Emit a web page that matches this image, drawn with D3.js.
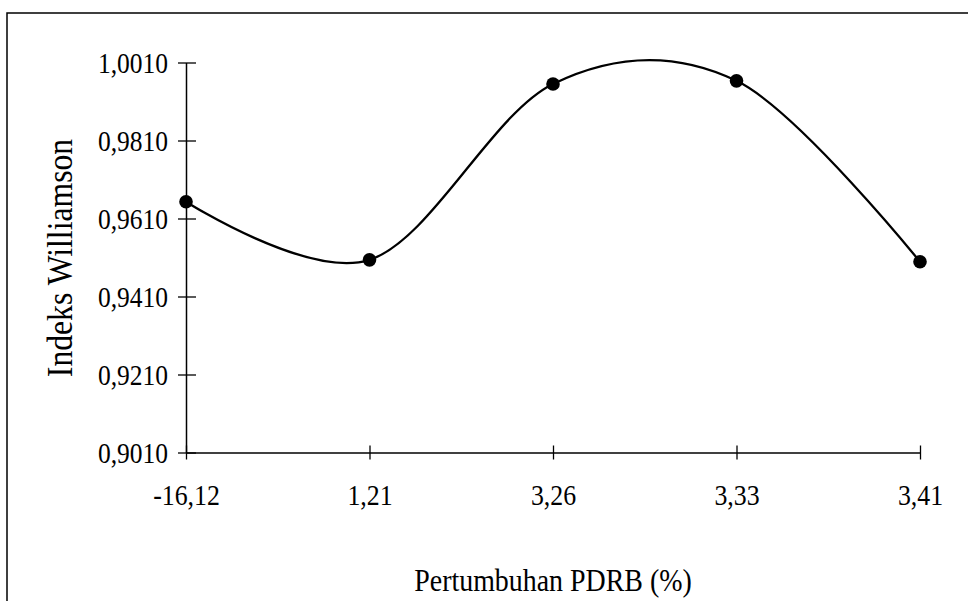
<!DOCTYPE html>
<html>
<head>
<meta charset="utf-8">
<script src="https://cdn.jsdelivr.net/npm/d3@7"></script>
<style>
  html, body { margin: 0; padding: 0; background: #fff; }
  svg { display: block; }
  text { font-family: "Liberation Serif", "Times New Roman", serif; fill: #000; }
</style>
</head>
<body>
<svg id="chart" width="970" height="601"></svg>
<script>
const categories = ["-16,12", "1,21", "3,26", "3,33", "3,41"];
const williamson = [0.9653, 0.9504, 0.9955, 0.9963, 0.9499];
const yTicks = [0.9010, 0.9210, 0.9410, 0.9610, 0.9810, 1.0010];
const xTitle = "Pertumbuhan PDRB (%)";
const yTitle = "Indeks Williamson";

(function () {
const svg = d3.select("#chart");
const pLeft = 186, pRight = 920, pTop = 62.5, pBottom = 452.5;

// condensed serif look of the scanned original
function condense(sel, size, factor) {
  sel.attr("font-size", size).attr("font-family", "Liberation Serif")
    .each(function () {
      const w = this.getComputedTextLength();
      d3.select(this).attr("textLength", w * factor).attr("lengthAdjust", "spacingAndGlyphs");
    });
}

// frame (scanned border: top and left edges)
svg.append("path")
  .attr("d", `M7,601 L7,13 L968,13`)
  .attr("fill", "none").attr("stroke", "#000").attr("stroke-width", 1.5);

const x = d3.scalePoint().domain(categories).range([pLeft, pRight]).padding(0);
const y = d3.scaleLinear().domain([0.9010, 1.0010]).range([pBottom, pTop]);

// y axis
const yAxis = svg.append("g").attr("transform", `translate(${pLeft},0)`)
  .call(d3.axisLeft(y).tickValues(yTicks)
    .tickFormat(d => d3.format(".4f")(d).replace(".", ","))
    .tickSizeInner(8).tickSizeOuter(0).tickPadding(10));
yAxis.select(".domain").attr("stroke", "#000").attr("stroke-width", 1.5);
yAxis.selectAll(".tick line").attr("x1", -8).attr("x2", 10).attr("stroke", "#000").attr("stroke-width", 1.3);
condense(yAxis.selectAll(".tick text"), 30, 0.85);

// x axis
const xAxis = svg.append("g").attr("transform", `translate(0,${pBottom})`)
  .call(d3.axisBottom(x).tickSizeInner(7).tickSizeOuter(0).tickPadding(24));
xAxis.select(".domain").attr("stroke", "#000").attr("stroke-width", 1.5);
xAxis.selectAll(".tick line").attr("y1", -7).attr("y2", 7).attr("stroke", "#000").attr("stroke-width", 1.3);
condense(xAxis.selectAll(".tick text"), 30, 0.86);

// smoothed line
const data = categories.map((c, i) => ({ c, v: williamson[i] }));
const line = d3.line().x(d => x(d.c)).y(d => y(d.v)).curve(d3.curveCardinal.tension(0));
svg.append("path").datum(data)
  .attr("d", line).attr("fill", "none").attr("stroke", "#000").attr("stroke-width", 2.3);

svg.selectAll("circle.pt").data(data).enter().append("circle")
  .attr("class", "pt")
  .attr("cx", d => x(d.c)).attr("cy", d => y(d.v)).attr("r", 6.8).attr("fill", "#000");

// titles
const xt = svg.append("text").attr("x", 553).attr("y", 591)
  .attr("text-anchor", "middle").text(xTitle);
condense(xt, 31, 0.9);
const yt = svg.append("text").attr("transform", `translate(72,258) rotate(-90)`)
  .attr("text-anchor", "middle").text(yTitle);
condense(yt, 36, 0.88);
})();
</script>
</body>
</html>
